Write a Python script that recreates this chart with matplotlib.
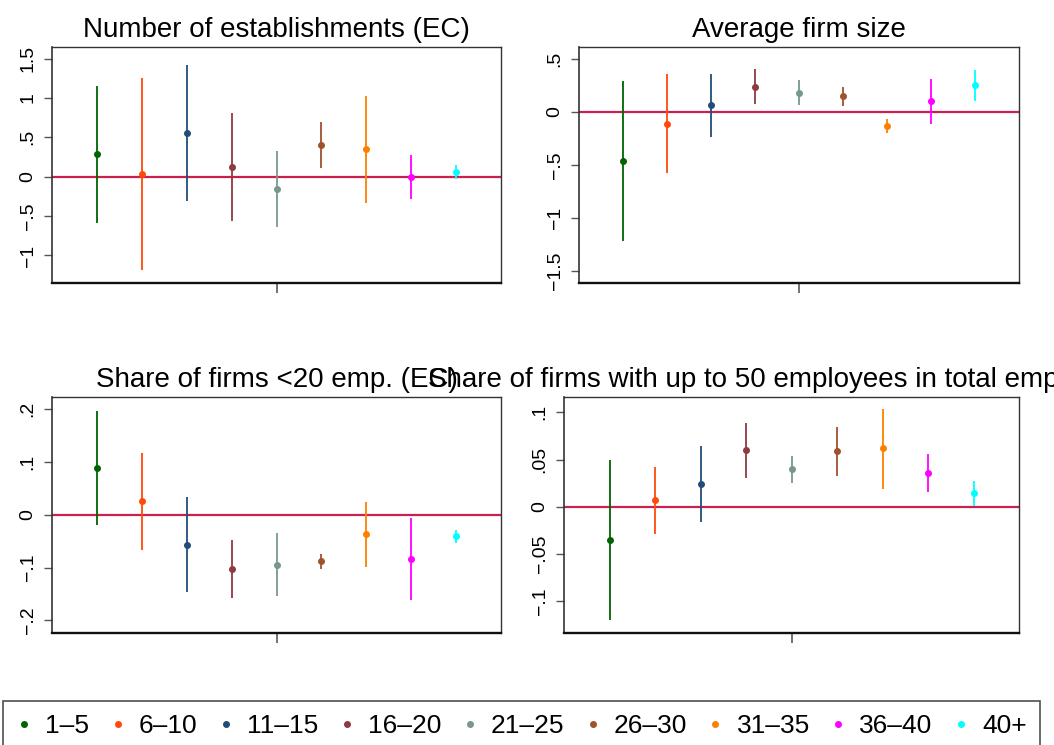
import matplotlib
matplotlib.use("Agg")
import matplotlib.pyplot as plt
from matplotlib.lines import Line2D

plt.rcParams['font.family'] = ['Liberation Sans', 'DejaVu Sans']

# ---------------- data ----------------
categories = ["1–5", "6–10", "11–15", "16–20", "21–25", "26–30", "31–35", "36–40", "40+"]
colors = ["#006400", "#FF4A0A", "#224D78", "#8E3A42", "#7A978C", "#A0522D", "#FF8000", "#FF00FF", "#00FFFF"]

titles = ["Number of establishments (EC)",
          "Average firm size",
          "Share of firms <20 emp. (EC)",
          "Share of firms with up to 50 employees in total employment"]

est_estab = [0.288, 0.030, 0.555, 0.123, -0.153, 0.407, 0.347, -0.004, 0.059]
lo_estab  = [-0.585, -1.186, -0.314, -0.559, -0.636, 0.114, -0.331, -0.288, -0.034]
hi_estab  = [1.153, 1.254, 1.424, 0.805, 0.326, 0.699, 1.025, 0.275, 0.153]

est_size = [-0.468, -0.114, 0.060, 0.237, 0.180, 0.149, -0.136, 0.101, 0.250]
lo_size  = [-1.220, -0.581, -0.234, 0.070, 0.060, 0.057, -0.202, -0.111, 0.104]
hi_size  = [0.291, 0.354, 0.357, 0.404, 0.300, 0.237, -0.070, 0.310, 0.395]

est_s20 = [0.0891, 0.0253, -0.0569, -0.1030, -0.0948, -0.0885, -0.0373, -0.0840, -0.0404]
lo_s20  = [-0.0190, -0.0670, -0.1470, -0.1570, -0.1540, -0.1030, -0.0998, -0.1610, -0.0530]
hi_s20  = [0.1965, 0.1170, 0.0335, -0.0487, -0.0354, -0.0740, 0.0246, -0.0070, -0.0290]

est_s50 = [-0.0358, 0.0067, 0.0241, 0.0596, 0.0397, 0.0589, 0.0617, 0.0362, 0.0142]
lo_s50  = [-0.1206, -0.0287, -0.0167, 0.0309, 0.0252, 0.0323, 0.0191, 0.0156, 0.0010]
hi_s50  = [0.0496, 0.0422, 0.0645, 0.0887, 0.0539, 0.0848, 0.1039, 0.0560, 0.0273]

yticks = [[-1, -0.5, 0, 0.5, 1, 1.5],
          [-1.5, -1, -0.5, 0, 0.5],
          [-0.2, -0.1, 0, 0.1, 0.2],
          [-0.1, -0.05, 0, 0.05, 0.1]]
yticklabels = [["−1", "−.5", "0", ".5", "1", "1.5"],
               ["−1.5", "−1", "−.5", "0", ".5"],
               ["−.2", "−.1", "0", ".1", ".2"],
               ["−.1", "−.05", "0", ".05", ".1"]]
ylims = [(-1.351, 1.648), (-1.618, 0.613), (-0.2237, 0.2224), (-0.134, 0.1163)]

panels = [(est_estab, lo_estab, hi_estab),
          (est_size, lo_size, hi_size),
          (est_s20, lo_s20, hi_s20),
          (est_s50, lo_s50, hi_s50)]

# ---------------- layout ----------------
W, H = 1054, 745
fig = plt.figure(figsize=(W / 100, H / 100), dpi=100)
fig.patch.set_facecolor("white")

# pixel boxes (left, right, top, bottom)
boxes = [(52, 501, 47, 283), (579, 1019, 47, 283),
         (52, 501, 397, 633), (564, 1019, 397, 633)]

zero_color = "#CB1F4F"
for k, (box, (est, lo, hi)) in enumerate(zip(boxes, panels)):
    l, r, t, b = box
    ax = fig.add_axes([l / W, 1 - b / H, (r - l) / W, (b - t) / H])
    ax.axhline(0, color=zero_color, lw=1.6, zorder=1)
    xs = list(range(1, len(categories) + 1))
    for i, x in enumerate(xs):
        ax.vlines(x, lo[i], hi[i], color=colors[i], lw=1.3, zorder=2)
        ax.plot([x], [est[i]], 'o', color=colors[i], ms=4.0, mec=colors[i], zorder=3)
    ax.set_xlim(0, 10)
    ax.set_ylim(*ylims[k])
    ax.set_xticks([5])
    ax.set_xticklabels([""])
    ax.set_yticks(yticks[k])
    ax.set_yticklabels(yticklabels[k], rotation=90, va="center", fontsize=14)
    ax.tick_params(axis="y", length=6, width=1.0, color="#555555", pad=5)
    ax.tick_params(axis="x", length=7, width=1.3, color="#666666")
    for side in ["top", "right"]:
        ax.spines[side].set_color("#333333")
        ax.spines[side].set_linewidth(1.0)
    ax.spines["left"].set_color("#333333")
    ax.spines["left"].set_linewidth(1.2)
    ax.spines["bottom"].set_color("#111111")
    ax.spines["bottom"].set_linewidth(1.7)
    ax.set_title(titles[k], fontsize=20, pad=7)

handles = [Line2D([], [], ls="none", marker="o", ms=4.0, color=c, mec=c) for c in colors]
leg = fig.legend(handles, categories, loc="upper left", ncol=9, mode="expand",
                 bbox_to_anchor=(3 / W, 1 - 701 / H, 1037 / W, 0.0),
                 fontsize=19, frameon=True, fancybox=False, borderpad=0.5,
                 handlelength=0.6, handletextpad=0.5, borderaxespad=0.0,
                 columnspacing=1.0)
leg.get_frame().set_edgecolor("#222222")
leg.get_frame().set_linewidth(1.2)

fig.savefig("out.png", dpi=100, facecolor="white")
